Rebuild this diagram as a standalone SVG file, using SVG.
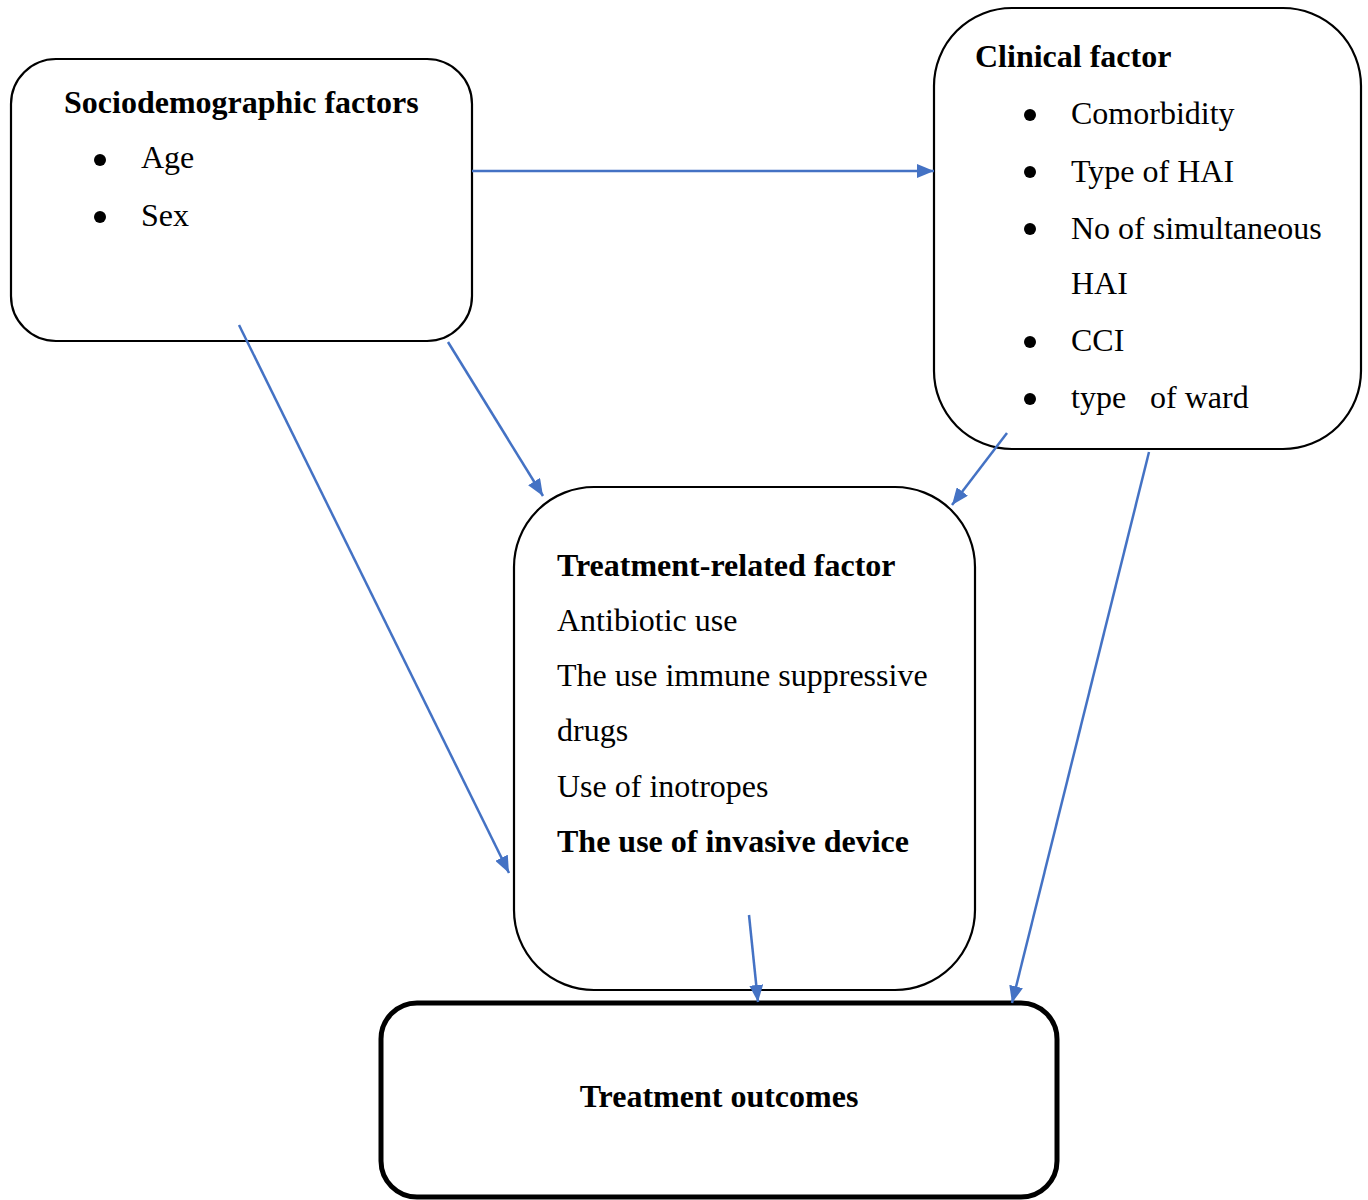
<svg xmlns="http://www.w3.org/2000/svg" width="1368" height="1200" viewBox="0 0 1368 1200">
<style>
.box{fill:#fff;stroke:#000;stroke-width:2.2}
.thick{fill:#fff;stroke:#000;stroke-width:5}
.t{font-family:"Liberation Serif","Times New Roman",serif;font-size:32px;fill:#000}
.b{font-weight:bold}
.conn{stroke:#4472C4;stroke-width:2.5;fill:none;marker-end:url(#ah)}
.dot{fill:#000}
</style>
<defs>
<marker id="ah" markerUnits="userSpaceOnUse" markerWidth="18" markerHeight="14" refX="17" refY="7" orient="auto">
<path d="M0,0 L17,7 L0,14 z" fill="#4472C4"/>
</marker>
</defs>
<rect width="1368" height="1200" fill="#fff"/>
<g id="socio">
<rect class="box" x="11" y="59" width="461" height="282" rx="45" ry="45"/>
<text class="t b" x="64" y="113">Sociodemographic factors</text>
<circle class="dot" cx="100" cy="160" r="6"/>
<text class="t" x="141" y="168">Age</text>
<circle class="dot" cx="100" cy="217" r="6"/>
<text class="t" x="141" y="226">Sex</text>
</g>
<g id="clinical">
<rect class="box" x="934" y="8" width="427" height="441" rx="78" ry="78"/>
<text class="t b" x="975" y="67">Clinical factor</text>
<circle class="dot" cx="1030" cy="115" r="6"/>
<text class="t" x="1071" y="124">Comorbidity</text>
<circle class="dot" cx="1030" cy="172" r="6"/>
<text class="t" x="1071" y="182">Type of HAI</text>
<circle class="dot" cx="1030" cy="229" r="6"/>
<text class="t" x="1071" y="239">No of simultaneous</text>
<text class="t" x="1071" y="294">HAI</text>
<circle class="dot" cx="1030" cy="342" r="6"/>
<text class="t" x="1071" y="351">CCI</text>
<circle class="dot" cx="1030" cy="399" r="6"/>
<text class="t" x="1071" y="408" xml:space="preserve">type   of ward</text>
</g>
<g id="treatment">
<rect class="box" x="514" y="487" width="461" height="503" rx="80" ry="80"/>
<text class="t b" x="557" y="576">Treatment-related factor</text>
<text class="t" x="557" y="631">Antibiotic use</text>
<text class="t" x="557" y="686">The use immune suppressive</text>
<text class="t" x="557" y="741">drugs</text>
<text class="t" x="557" y="797">Use of inotropes</text>
<text class="t b" x="557" y="852">The use of invasive device</text>
</g>
<g id="outcomes">
<rect class="thick" x="381" y="1003" width="676" height="194" rx="36" ry="36"/>
<text class="t b" x="719" y="1107" text-anchor="middle">Treatment outcomes</text>
</g>
<g id="connectors">
<path class="conn" d="M472,171 L934,171"/>
<path class="conn" d="M239,325 L509,873"/>
<path class="conn" d="M448,342 L543,496"/>
<path class="conn" d="M1007,433 L952,505"/>
<path class="conn" d="M1149,452 L1012,1003"/>
<path class="conn" d="M749,915 L758,1002"/>
</g>
</svg>
